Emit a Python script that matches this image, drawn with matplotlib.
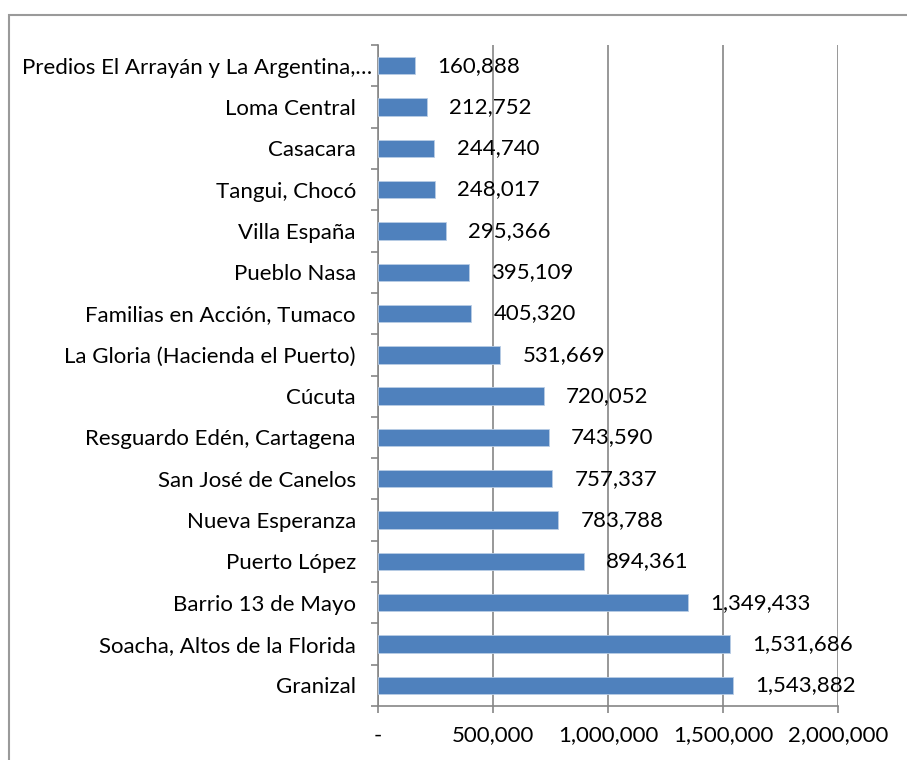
import matplotlib
matplotlib.use("Agg")
import matplotlib.pyplot as plt
from matplotlib.patches import Rectangle
from matplotlib.transforms import ScaledTranslation
import numpy as np

categories = [
    "Granizal",
    "Soacha, Altos de la Florida",
    "Barrio 13 de Mayo",
    "Puerto López",
    "Nueva Esperanza",
    "San José de Canelos",
    "Resguardo Edén, Cartagena",
    "Cúcuta",
    "La Gloria (Hacienda el Puerto)",
    "Familias en Acción, Tumaco",
    "Pueblo Nasa",
    "Villa España",
    "Tangui, Chocó",
    "Casacara",
    "Loma Central",
    "Predios El Arrayán y La Argentina,…",
]
values = [1543882, 1531686, 1349433, 894361, 783788, 757337, 743590, 720052,
          531669, 405320, 395109, 295366, 248017, 244740, 212752, 160888]
xticks = [0, 500000, 1000000, 1500000, 2000000]
xticklabels = ["-", "500,000", "1,000,000", "1,500,000", "2,000,000"]

plt.rcParams['font.family'] = ['Lato', 'DejaVu Sans']
fig = plt.figure(figsize=(9.07, 7.6), dpi=100)
ax = fig.add_axes([378/907, (760-706)/760, (838-378)/907, (706-45)/760])

y = np.arange(len(categories))
ax.barh(y, values, height=0.42, color="#4F81BD", edgecolor="#B9CDE5", linewidth=0.6, zorder=3)
ax.set_xlim(0, 2000000)
ax.set_ylim(-0.5, len(categories) - 0.5)

for yi, v in zip(y, values):
    ax.annotate(f"{v:,}", xy=(v, yi), xytext=(16, 0), textcoords="offset points",
                ha="left", va="center", fontsize=16, color="black", zorder=4)

ax.set_xticks(xticks)
ax.set_xticklabels(xticklabels, fontsize=16)
ax.set_yticks(y)
ax.set_yticklabels(categories, fontsize=16)
ax.set_yticks(np.arange(-0.5, len(categories), 1), minor=True)
ax.tick_params(axis='y', which='major', length=0, pad=16)
ax.tick_params(axis='y', which='minor', length=5, width=1.2, color="#868686", direction='out')
ax.tick_params(axis='x', which='major', length=5, width=1.2, color="#868686", direction='out', pad=9)
ax.grid(axis='x', color="#868686", linewidth=1.2, zorder=0)
for s in ['top', 'right']:
    ax.spines[s].set_visible(False)
for s in ['left', 'bottom']:
    ax.spines[s].set_color("#868686")
    ax.spines[s].set_linewidth(1.2)

# Excel draws the truncated top label nearly touching the axis
lbl = ax.get_yticklabels()[-1]
lbl.set_transform(lbl.get_transform() + ScaledTranslation(12/72, 0, fig.dpi_scale_trans))

border = Rectangle((9/907, -0.1), 1.2, 0.1 + 745/760, transform=fig.transFigure,
                   fill=False, edgecolor="#9A9A9A", linewidth=1.5, clip_on=False)
fig.patches.append(border)

fig.savefig("out.png", dpi=100)
